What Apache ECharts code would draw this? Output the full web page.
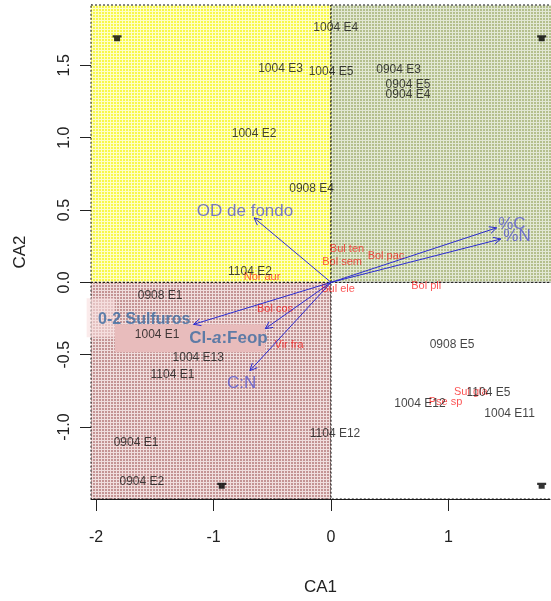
<!DOCTYPE html>
<html>
<head>
<meta charset="utf-8">
<script src="https://cdn.jsdelivr.net/npm/echarts@6/dist/echarts.min.js"></script>
<style>
  html, body { margin: 0; padding: 0; background: #fff; overflow: hidden; }
  #chart { width: 551px; height: 601px; }
</style>
</head>
<body>
<div id="chart"></div>
<script>
// Correspondence analysis biplot: CA1 vs CA2

// Axis extents and tick marks
const xRange = [-2.043, 1.864];
const yRange = [-1.497, 1.917];
const xTicks = [-2, -1, 0, 1];
const yTicks = [-1.0, -0.5, 0.0, 0.5, 1.0, 1.5];

// Quadrant panels (lower/upper bounds on each axis)
const quadNames = ['upper-left', 'upper-right', 'lower-left', 'lower-right'];
const quadX0 = [-2.043, 0, -2.043, 0];
const quadX1 = [0, 1.95, 0, 1.95];
const quadY0 = [0, 0, -1.497, -1.497];
const quadY1 = [1.917, 1.917, 0, 0];

// Highlight boxes behind the bold variable labels
const boxX0 = [-2.08, -1.84];
const boxX1 = [-1.84, -0.56];
const boxY0 = [-0.38, -0.483];
const boxY1 = [-0.11, -0.29];

// Sampling sites
const siteNames = ['1004 E4', '1004 E3', '1004 E5', '1004 E2', '0904 E3', '0904 E5', '0904 E4',
  '0908 E4', '1104 E2', '0908 E1', '1004 E1', '1004 E13', '1104 E1', '0904 E1', '0904 E2',
  '1104 E12', '0908 E5', '1004 E12', '1104 E5', '1004 E11'];
const siteX = [0.04, -0.43, 0.0, -0.655, 0.575, 0.655, 0.655,
  -0.165, -0.69, -1.455, -1.48, -1.13, -1.35, -1.66, -1.61,
  0.034, 1.03, 0.757, 1.34, 1.52];
const siteY = [1.76, 1.48, 1.455, 1.03, 1.47, 1.365, 1.30,
  0.65, 0.076, -0.095, -0.36, -0.52, -0.635, -1.11, -1.38,
  -1.048, -0.43, -0.84, -0.76, -0.91];

// Species scores
const speciesNames = ['Bul ten', 'Bol sem', 'Bol pac', 'Nor aur', 'Bul ele', 'Bol pli',
  'Bol cos', 'Vir fra', 'Pse sp', 'Sul gla'];
const speciesX = [0.136, 0.094, 0.468, -0.587, 0.06, 0.81, -0.477, -0.357, 0.974, 1.19];
const speciesY = [0.228, 0.138, 0.18, 0.035, -0.048, -0.025, -0.186, -0.43, -0.826, -0.757];

// Environmental vectors (arrow tips) and their label anchors
const envNames = ['%C', '%N', 'OD de fondo', '0-2 Sulfuros', 'Cl-a:Feop', 'C:N'];
const envX = [1.41, 1.445, -0.655, -1.17, -0.56, -0.69];
const envY = [0.377, 0.30, 0.446, -0.29, -0.32, -0.61];
const envLabelX = [1.54, 1.583, -0.732, -1.59, -0.873, -0.76];
const envLabelY = [0.40, 0.317, 0.49, -0.255, -0.388, -0.697];

// Corner markers
const markX = [-1.821, 1.793, -0.93, 1.793];
const markY = [1.688, 1.688, -1.405, -1.405];

const FONT = "'Liberation Sans', Arial, sans-serif";

// Small crosshatch tile used as panel fill
function hatch(cell, line) {
  const c = document.createElement('canvas');
  c.width = 3; c.height = 3;
  const g = c.getContext('2d');
  g.fillStyle = line; g.fillRect(0, 0, 3, 3);
  g.fillStyle = cell; g.fillRect(0, 0, 2, 2);
  return { type: 'pattern', image: c, repeat: 'repeat' };
}
const quadFills = [
  hatch('#f8f84a', '#fefec8'),
  hatch('#b4bf8c', '#e2e8d4'),
  hatch('#c49494', '#f0dede'),
  '#ffffff'
];

const chart = echarts.init(document.getElementById('chart'), null, { renderer: 'canvas' });

const rectRender = (fills, dashed) => (params, api) => {
  const p0 = api.coord([api.value(0), api.value(3)]);
  const p1 = api.coord([api.value(1), api.value(2)]);
  return {
    type: 'rect',
    shape: { x: p0[0], y: p0[1], width: p1[0] - p0[0], height: p1[1] - p0[1] },
    style: dashed
      ? { fill: fills[params.dataIndex], stroke: '#111', lineWidth: 1, lineDash: [2, 2] }
      : { fill: fills[params.dataIndex], stroke: null }
  };
};

const option = {
  animation: false,
  backgroundColor: '#ffffff',
  grid: { left: 91, right: 1, top: 5, bottom: 101 },
  xAxis: {
    type: 'value', min: xRange[0], max: xRange[1],
    splitLine: { show: false },
    axisLine: { onZero: false, lineStyle: { color: '#222', width: 1 } },
    axisTick: { customValues: xTicks, length: 12, lineStyle: { color: '#222' } },
    axisLabel: { customValues: xTicks, margin: 31, fontSize: 16, color: '#222', fontFamily: FONT,
      formatter: v => String(v) },
    name: 'CA1', nameLocation: 'middle', nameGap: 80,
    nameTextStyle: { fontSize: 17, color: '#222', fontFamily: FONT }
  },
  yAxis: {
    type: 'value', min: yRange[0], max: yRange[1],
    splitLine: { show: false },
    axisLine: { onZero: false, lineStyle: { color: '#222', width: 1 } },
    axisTick: { customValues: yTicks, length: 11, lineStyle: { color: '#222' } },
    axisLabel: { customValues: yTicks, margin: 18, fontSize: 16, color: '#222', fontFamily: FONT,
      rotate: 90, formatter: v => v.toFixed(1) },
    name: 'CA2', nameLocation: 'middle', nameGap: 62,
    nameTextStyle: { fontSize: 17, color: '#222', fontFamily: FONT }
  },
  series: [
    {
      type: 'custom', name: 'panels', clip: false, z: 1,
      data: quadNames.map((n, i) => [quadX0[i], quadX1[i], quadY0[i], quadY1[i]]),
      renderItem: rectRender(quadFills, true)
    },
    {
      type: 'custom', name: 'boxes', clip: false, z: 2,
      data: boxX0.map((v, i) => [boxX0[i], boxX1[i], boxY0[i], boxY1[i]]),
      renderItem: rectRender(['rgba(248,222,222,0.6)', '#e8bcbc'], false)
    },
    {
      type: 'scatter', name: 'species', z: 3,
      symbolSize: 1, itemStyle: { color: 'rgba(0,0,0,0)' },
      label: { show: true, position: 'inside', fontSize: 11, fontFamily: FONT,
        color: 'rgba(250,10,10,0.88)', formatter: p => p.name },
      data: speciesNames.map((n, i) => ({ name: n, value: [speciesX[i], speciesY[i]] }))
    },
    {
      type: 'scatter', name: 'sites', z: 4,
      symbolSize: 1, itemStyle: { color: 'rgba(0,0,0,0)' },
      label: { show: true, position: 'inside', fontSize: 12, fontFamily: FONT,
        color: '#141414', formatter: p => p.name },
      data: siteNames.map((n, i) => ({ name: n, value: [siteX[i], siteY[i]] }))
    },
    {
      type: 'custom', name: 'vectors', clip: false, z: 5,
      data: envNames.map((n, i) => [envX[i], envY[i]]),
      renderItem: (params, api) => {
        const o = api.coord([0, 0]);
        const t = api.coord([api.value(0), api.value(1)]);
        const a = Math.atan2(t[1] - o[1], t[0] - o[0]);
        const h = 8, w = 0.45;
        const l = [t[0] - h * Math.cos(a - w), t[1] - h * Math.sin(a - w)];
        const r = [t[0] - h * Math.cos(a + w), t[1] - h * Math.sin(a + w)];
        const st = { stroke: '#2c2cd2', lineWidth: 1, fill: null };
        return {
          type: 'group',
          children: [
            { type: 'line', shape: { x1: o[0], y1: o[1], x2: t[0], y2: t[1] }, style: st },
            { type: 'polyline', shape: { points: [l, t, r] }, style: st }
          ]
        };
      }
    },
    {
      type: 'scatter', name: 'variables', z: 6,
      symbolSize: 1, itemStyle: { color: 'rgba(0,0,0,0)' },
      label: { show: true, position: 'inside', fontSize: 17, fontFamily: FONT,
        color: '#5656d0', formatter: p => p.name },
      data: envNames.map((n, i) => {
        const item = { name: n, value: [envLabelX[i], envLabelY[i]] };
        if (n === '0-2 Sulfuros') {
          item.label = { fontWeight: 'bold', fontSize: 16, color: '#3b6aa0' };
        } else if (n === 'Cl-a:Feop') {
          item.label = {
            formatter: '{b|Cl-}{i|a}{b|:Feop}',
            rich: {
              b: { fontWeight: 'bold', fontSize: 17, color: '#3b6aa0', fontFamily: FONT },
              i: { fontWeight: 'bold', fontStyle: 'italic', fontSize: 17, color: '#3b6aa0', fontFamily: FONT }
            }
          };
        }
        return item;
      })
    },
    {
      type: 'scatter', name: 'corners', z: 7,
      symbol: 'path://M0,0H9V2H7.5V5H1.5V2H0Z', symbolSize: [9, 6],
      itemStyle: { color: '#000' },
      data: markX.map((v, i) => [markX[i], markY[i]])
    }
  ]
};

chart.setOption(option);
</script>
</body>
</html>
